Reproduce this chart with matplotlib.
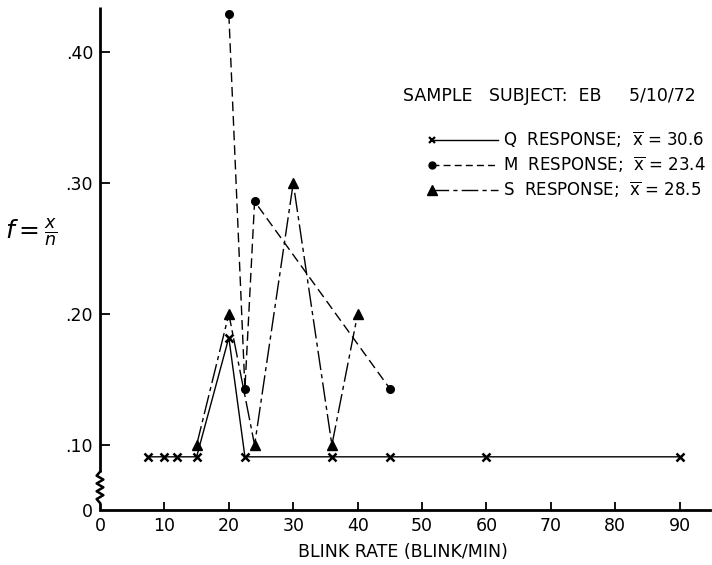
import numpy as np
import matplotlib
matplotlib.use("Agg")
import matplotlib.pyplot as plt

plt.rcParams['font.family'] = ['DejaVu Sans']
plt.rcParams['mathtext.fontset'] = 'dejavusans'

# blink rate (blink/min) and relative frequency f = x/n
q_rate = [7.5, 10, 12, 15, 20, 22.5, 36, 45, 60, 90]
q_freq = [0.091, 0.091, 0.091, 0.091, 0.182, 0.091, 0.091, 0.091, 0.091, 0.091]
m_rate = [20, 22.5, 24, 45]
m_freq = [0.429, 0.143, 0.286, 0.143]
s_rate = [15, 20, 24, 30, 36, 40]
s_freq = [0.10, 0.20, 0.10, 0.30, 0.10, 0.20]

x_ticks = [0, 10, 20, 30, 40, 50, 60, 70, 80, 90]
y_ticks = [0.10, 0.20, 0.30, 0.40]
y_tick_labels = ['.10', '.20', '.30', '.40']
y_zero = 0.0504   # bottom of broken axis, labelled "0"

legend_labels = [r'Q  RESPONSE;  $\overline{\mathrm{x}}$ = 30.6',
                 r'M  RESPONSE;  $\overline{\mathrm{x}}$ = 23.4',
                 r'S  RESPONSE;  $\overline{\mathrm{x}}$ = 28.5']

fig = plt.figure(figsize=(7.12, 5.65), dpi=100)
ax = fig.add_axes([100 / 712, 55 / 565, 610 / 712, 503 / 565])

lw = 1.0
ax.plot(q_rate, q_freq, color='black', lw=lw, ls='-', marker='x',
        ms=5.5, mew=1.8, clip_on=False)
ax.plot(m_rate, m_freq, color='black', lw=lw, ls=(0, (7, 3.5)), marker='o',
        ms=5.5, clip_on=False)
ax.plot(s_rate, s_freq, color='black', lw=lw, ls=(0, (14, 3, 3, 3)), marker='^',
        ms=7.5, clip_on=False)

ax.set_xlim(0, 94.7)
ax.set_ylim(y_zero, 0.4344)

ax.set_xticks(x_ticks)
ax.set_xticklabels([str(t) for t in x_ticks])
ax.set_yticks([y_zero] + y_ticks)
ax.set_yticklabels(['0'] + y_tick_labels)
ax.tick_params(axis='both', direction='in', width=1.3, labelsize=12.5)
ax.tick_params(axis='x', length=6, pad=5)
ax.tick_params(axis='y', length=7, pad=5)
ax.yaxis.get_major_ticks()[0].tick1line.set_visible(False)
ax.xaxis.get_major_ticks()[0].tick1line.set_visible(False)

for side in ['top', 'right', 'left']:
    ax.spines[side].set_visible(False)
ax.spines['bottom'].set_linewidth(2.0)

# left axis with a zigzag break near the bottom
brk_lo, brk_hi = 0.014, 0.076
ax.plot([0, 0], [brk_hi, 1], transform=ax.transAxes, color='black', lw=2.0,
        clip_on=False, solid_capstyle='butt')
ax.plot([0, 0], [0, brk_lo], transform=ax.transAxes, color='black', lw=2.0,
        clip_on=False, solid_capstyle='butt')
zz_y = np.linspace(brk_lo, brk_hi, 9)
zz_x = np.array([0, -1, 1, -1, 1, -1, 1, -1, 0]) * 0.0055
ax.plot(zz_x, zz_y, transform=ax.transAxes, color='black', lw=1.8, clip_on=False)

ax.set_xlabel('BLINK RATE (BLINK/MIN)', fontsize=12.5)
ax.xaxis.label.set_horizontalalignment('left')
ax.xaxis.label.set_verticalalignment('center')
ax.xaxis.set_label_coords((298 - 100) / 610, (510 - 552) / 503)

fig.text(5 / 712, (565 - 232) / 565, r'$f = \frac{x}{n}$', fontsize=18,
         ha='left', va='center')

# text block and key
ax.text((403 - 100) / 610, (510 - 96) / 503, 'SAMPLE   SUBJECT:  EB     5/10/72',
        transform=ax.transAxes, fontsize=12.5, ha='left', va='center')
key_styles = [dict(ls='-', marker='x', ms=4.5, mew=1.6),
              dict(ls=(0, (5, 3)), marker='o', ms=5),
              dict(ls=(0, (12, 3, 3, 3)), marker='^', ms=7)]
key_y = [140, 165, 190]
for lab, st, py in zip(legend_labels, key_styles, key_y):
    yf = (510 - py) / 503
    ax.plot([(432 - 100) / 610, (498 - 100) / 610], [yf, yf], transform=ax.transAxes,
            color='black', lw=lw, markevery=[0], clip_on=False, **st)
    ax.text((503 - 100) / 610, yf, lab, transform=ax.transAxes, fontsize=12,
            ha='left', va='center')

fig.savefig('out.png', dpi=100)
